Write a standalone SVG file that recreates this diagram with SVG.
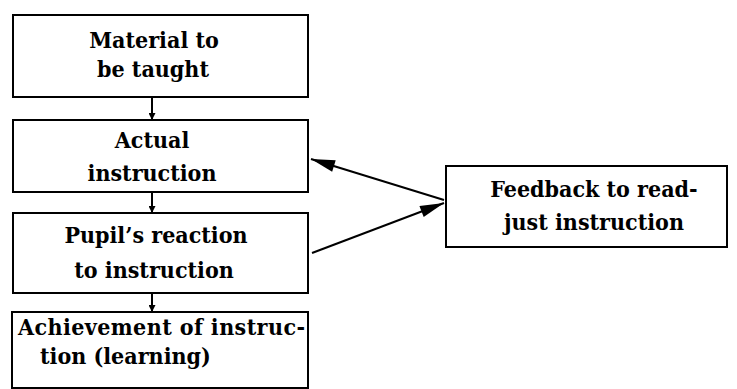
<svg xmlns="http://www.w3.org/2000/svg" width="737" height="389" viewBox="0 0 737 389">
<style>
.box{fill:#fff;stroke:#000;stroke-width:2}
.t{font-family:"DejaVu Serif Condensed","DejaVu Serif",serif;font-weight:bold;font-size:23px;fill:#000}
.c{text-anchor:middle}
.ln{stroke:#000;stroke-width:2;fill:none}
</style>
<defs>
<marker id="ah" viewBox="0 0 10 10" refX="10" refY="5" markerWidth="7" markerHeight="7" orient="auto" markerUnits="userSpaceOnUse"><path d="M0,0L10,5L0,10z" fill="#000"/></marker>
<marker id="ad" viewBox="0 0 20 10" refX="20" refY="5" markerWidth="28" markerHeight="12" orient="auto" markerUnits="userSpaceOnUse"><path d="M0,0L20,5L0,10z" fill="#000"/></marker>
</defs>
<rect width="737" height="389" fill="#fff"/>
<g id="connectors">
<line class="ln" x1="152" y1="97" x2="152" y2="120" marker-end="url(#ah)"/>
<line class="ln" x1="152" y1="192" x2="152" y2="213" marker-end="url(#ah)"/>
<line class="ln" x1="152" y1="293" x2="152" y2="312" marker-end="url(#ah)"/>
<line class="ln" x1="444" y1="200" x2="311" y2="159" marker-end="url(#ad)"/>
<line class="ln" x1="312" y1="253" x2="444" y2="203" marker-end="url(#ad)"/>
</g>
<g id="n1"><rect class="box" x="13" y="15" width="295" height="82"/>
<text class="t c" x="154" y="48">Material to</text><text class="t c" x="153" y="77">be taught</text></g>
<g id="n2"><rect class="box" x="13" y="120" width="295" height="72"/>
<text class="t c" x="152" y="148">Actual</text><text class="t c" x="152" y="181">instruction</text></g>
<g id="n3"><rect class="box" x="13" y="213" width="295" height="80"/>
<text class="t c" x="156" y="243">Pupil’s reaction</text><text class="t c" x="154" y="278">to instruction</text></g>
<g id="n4"><rect class="box" x="12" y="312" width="296" height="76"/>
<text class="t" x="18" y="335" textLength="287">Achievement of instruc-</text><text class="t" x="40" y="364">tion (learning)</text></g>
<g id="n5"><rect class="box" x="446" y="166" width="281" height="81"/>
<text class="t c" x="594" y="197">Feedback to read-</text><text class="t c" x="594" y="230">just instruction</text></g>
</svg>
